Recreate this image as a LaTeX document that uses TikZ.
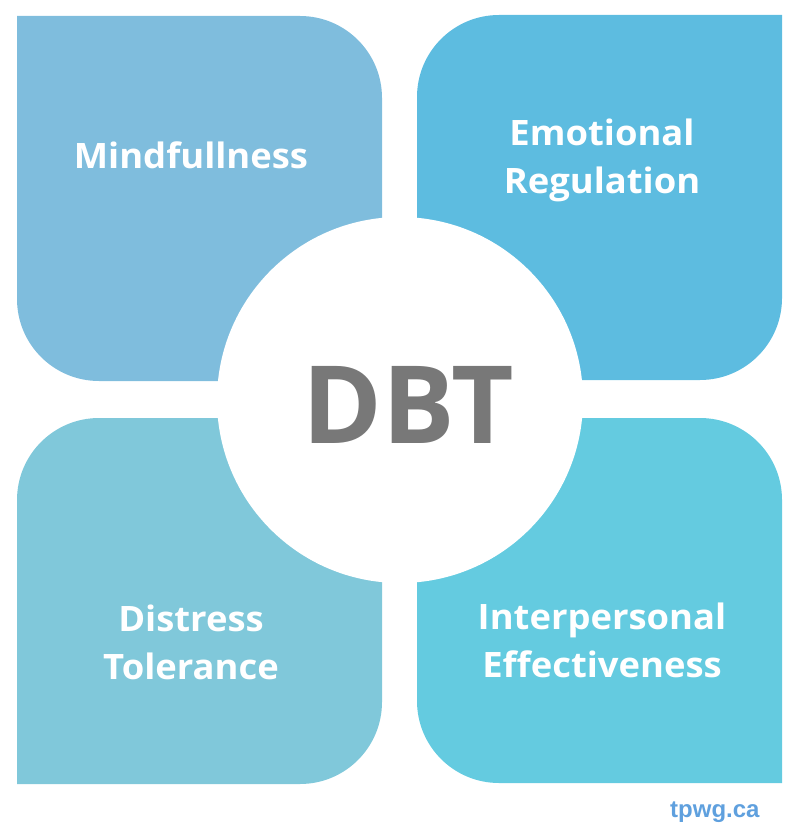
\documentclass[tikz,border=0pt]{standalone}
\usepackage{fontspec}
\setmainfont{Open Sans}
\newfontfamily\labelfont{Open Sans}[FakeStretch=1.04]
\newfontfamily\urlfont{Liberation Sans}
\definecolor{cTL}{RGB}{127,189,221}
\definecolor{cTR}{RGB}{93,188,224}
\definecolor{cBL}{RGB}{128,200,218}
\definecolor{cBR}{RGB}{100,203,224}
\definecolor{dbtgray}{RGB}{120,120,120}
\definecolor{urlblue}{RGB}{95,160,222}
\begin{document}
\begin{tikzpicture}[x=1pt,y=-1pt,
  lbl/.style={text=white,font=\labelfont\bfseries\fontsize{35}{48}\selectfont,align=center,inner sep=0pt}]
\useasboundingbox (0,0) rectangle (799,834);
% top-left tile
\fill[cTL] (17,16) -- (300,16) arc[start angle=-90,end angle=0,radius=82]
  -- (382,381) -- (99,381) arc[start angle=90,end angle=180,radius=82] -- cycle;
% top-right tile
\fill[cTR] (782,15) -- (782,298) arc[start angle=0,end angle=90,radius=82]
  -- (417,380) -- (417,97) arc[start angle=180,end angle=270,radius=82] -- cycle;
% bottom-left tile
\fill[cBL] (17,784) -- (17,500) arc[start angle=180,end angle=270,radius=82]
  -- (382,418) -- (382,702) arc[start angle=0,end angle=90,radius=82] -- cycle;
% bottom-right tile
\fill[cBR] (782,783) -- (499,783) arc[start angle=90,end angle=180,radius=82]
  -- (417,418) -- (700,418) arc[start angle=-90,end angle=0,radius=82] -- cycle;
% centre circle
\node[circle,fill=white,minimum size=366pt,inner sep=0pt] (hub) at (400,400) {};
\node[text=dbtgray,font=\bfseries\fontsize{108}{108}\selectfont,anchor=base,inner sep=0pt] (dbt) at (408,443) {DBT};
\node[lbl,anchor=base] (mind) at (191,169) {Mindfullness};
\node[lbl,anchor=base] (emo) at (602,194) {Emotional\\Regulation};
\node[lbl,anchor=base] (dist) at (191,679) {Distress\\Tolerance};
\node[lbl,anchor=base] (inter) at (602,677) {Interpersonal\\Effectiveness};
\node[text=urlblue,font=\urlfont\bfseries\fontsize{24}{24}\selectfont,anchor=base west,inner sep=0pt] (url) at (670,817) {tpwg.ca};
\end{tikzpicture}
\end{document}
